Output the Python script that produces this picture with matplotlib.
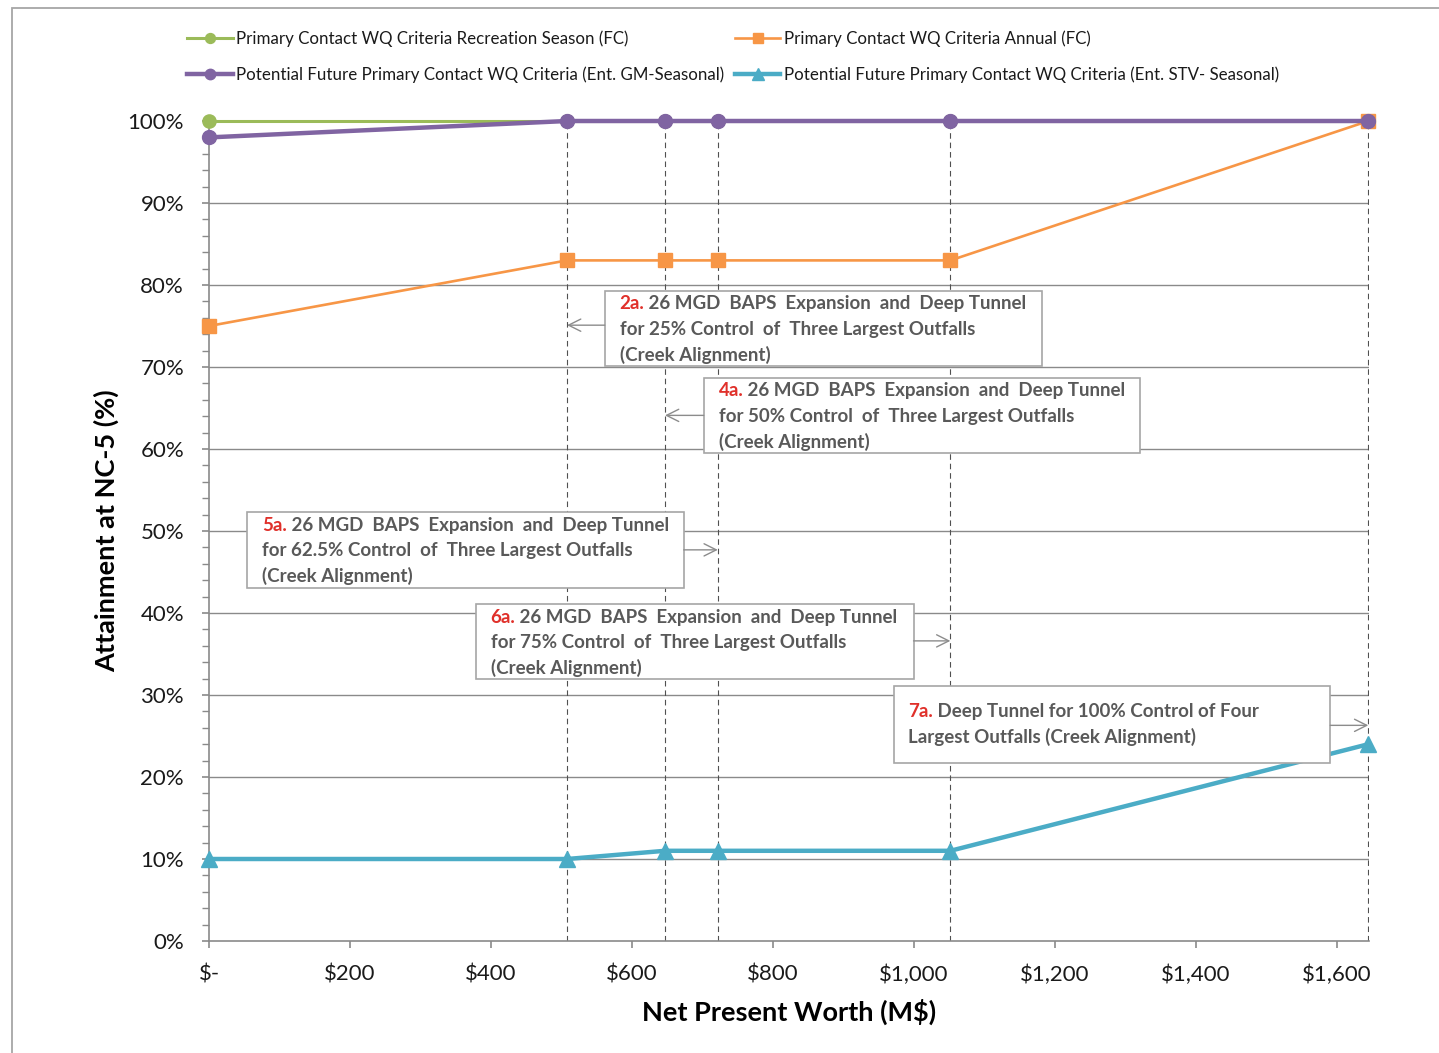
import matplotlib
matplotlib.use("Agg")
import matplotlib.pyplot as plt
from matplotlib.patches import Rectangle
import numpy as np

plt.rcParams['font.family'] = ['Lato', 'DejaVu Sans']

# Net present worth of each alternative (M$)
npw = [0, 508, 647, 722, 1052, 1645]

# Attainment at NC-5 (%) for each criterion
rec_season_fc = [100, 100, 100, 100, 100, 100]
annual_fc = [75, 83, 83, 83, 83, 100]
gm_seasonal = [98, 100, 100, 100, 100, 100]
stv_seasonal = [10, 10, 11, 11, 11, 24]

series_names = [
    "Primary Contact WQ Criteria Recreation Season (FC)",
    "Primary Contact WQ Criteria Annual (FC)",
    "Potential Future Primary Contact WQ Criteria (Ent. GM-Seasonal)",
    "Potential Future Primary Contact WQ Criteria (Ent. STV- Seasonal)",
]

x_ticks = [0, 200, 400, 600, 800, 1000, 1200, 1400, 1600]
x_tick_labels = ["$-", "$200", "$400", "$600", "$800", "$1,000", "$1,200", "$1,400", "$1,600"]
y_ticks = list(range(0, 101, 10))
y_tick_labels = [f"{v}%" for v in y_ticks]

# Alternative callouts: (id, rest of first line, further lines, target npw)
callouts = [
    ("2a.", " 26 MGD  BAPS  Expansion  and  Deep Tunnel",
     ["for 25% Control  of  Three Largest Outfalls", "(Creek Alignment)"], 508),
    ("4a.", " 26 MGD  BAPS  Expansion  and  Deep Tunnel",
     ["for 50% Control  of  Three Largest Outfalls", "(Creek Alignment)"], 647),
    ("5a.", " 26 MGD  BAPS  Expansion  and  Deep Tunnel",
     ["for 62.5% Control  of  Three Largest Outfalls", "(Creek Alignment)"], 722),
    ("6a.", " 26 MGD  BAPS  Expansion  and  Deep Tunnel",
     ["for 75% Control  of  Three Largest Outfalls", "(Creek Alignment)"], 1052),
    ("7a.", " Deep Tunnel for 100% Control of Four",
     ["Largest Outfalls (Creek Alignment)"], 1645),
]
# Box placement in data units: (x0, x1, y_top, y_bottom, first_line_y, arrow_y, arrow_side)
box_layout = [
    (561.6, 1182.6, 79.3, 70.1, 77.7, 75.1, "left"),
    (702.0, 1321.6, 68.7, 59.5, 67.1, 64.1, "left"),
    (53.9, 673.6, 52.3, 43.0, 50.7, 47.7, "right"),
    (378.6, 999.7, 41.1, 32.0, 39.5, 36.6, "right"),
    (971.4, 1591.0, 31.1, 21.7, 28.0, 26.3, "right"),
]

GREEN = "#9BBB59"
ORANGE = "#F79646"
PURPLE = "#8064A2"
BLUE = "#4BACC6"
GRID = "#8A8A8A"
TEXT = "#595959"

fig = plt.figure(figsize=(14.39, 10.53), dpi=100)
ax = fig.add_axes([209 / 1439, 112 / 1053, 1160 / 1439, 820 / 1053])
ax.set_xlim(0, 1646)
ax.set_ylim(0, 100)

# outer chart border
fig.patches.append(Rectangle((12 / 1439, -0.05), 1.2, (1053 - 8) / 1053 + 0.05,
                             transform=fig.transFigure, fill=False,
                             edgecolor="#A6A6A6", linewidth=1.3, zorder=0))

# horizontal gridlines
for v in y_ticks[1:]:
    ax.axhline(v, color=GRID, linewidth=1.0, zorder=1)

# drop lines
ax.vlines(npw[1:], 0, 100, colors="#505050", linestyles=(0, (5, 3.5)), linewidth=0.8, zorder=1.5)

l_green, = ax.plot(npw, rec_season_fc, color=GREEN, linewidth=2.2, marker="o",
                   markersize=9.5, zorder=3, clip_on=False)
l_orange, = ax.plot(npw, annual_fc, color=ORANGE, linewidth=1.9, marker="s",
                    markersize=10, zorder=4, clip_on=False)
l_purple, = ax.plot(npw, gm_seasonal, color=PURPLE, linewidth=3.2, marker="o",
                    markersize=10, zorder=5, clip_on=False)
l_blue, = ax.plot(npw, stv_seasonal, color=BLUE, linewidth=3.2, marker="^",
                  markersize=11, zorder=5, clip_on=False)

# axes styling
for s in ["top", "right"]:
    ax.spines[s].set_visible(False)
for s in ["left", "bottom"]:
    ax.spines[s].set_color(GRID)
    ax.spines[s].set_linewidth(1.2)
ax.set_xticks(x_ticks)
ax.set_xticklabels(x_tick_labels)
ax.set_yticks(y_ticks)
ax.set_yticklabels(y_tick_labels)
ax.set_yticks(np.arange(0, 101, 2), minor=True)
ax.tick_params(axis="both", which="major", direction="out", length=5, color=GRID,
               labelsize=16, labelcolor="#1a1a1a", width=1.2)
ax.tick_params(axis="y", which="minor", direction="out", length=5, color=GRID, width=1.0)
ax.tick_params(axis="x", pad=12)
ax.tick_params(axis="y", pad=13)
ax.set_xlabel("Net Present Worth (M$)", fontsize=19.5, fontweight="bold", labelpad=10)
ax.set_ylabel("Attainment at NC-5 (%)", fontsize=19.5, fontweight="bold", labelpad=6)

# callout boxes with arrows to the drop lines
for (tag, first, rest, target), (x0, x1, yt, yb, y1, ay, side) in zip(callouts, box_layout):
    ax.add_patch(Rectangle((x0, yb), x1 - x0, yt - yb, facecolor="white",
                           edgecolor="#A6A6A6", linewidth=1.2, zorder=6))
    tx = x0 + 21
    line_step = 3.1
    t = ax.text(tx, y1, tag, color="#E0302A", fontsize=13.5, fontweight="bold",
                va="center", ha="left", zorder=7)
    ax.annotate(first, xy=(1, 0), xycoords=t, va="bottom", ha="left",
                color=TEXT, fontsize=13.5, fontweight="bold", zorder=7)
    for i, line in enumerate(rest):
        ax.text(tx, y1 - line_step * (i + 1), line, color=TEXT, fontsize=13.5,
                fontweight="bold", va="center", ha="left", zorder=7)
    start = x0 if side == "left" else x1
    ax.annotate("", xy=(target, ay), xytext=(start, ay),
                arrowprops=dict(arrowstyle="->", color="#8C8C8C", lw=1.0,
                                shrinkA=0, shrinkB=0, mutation_scale=22),
                zorder=7)

leg = fig.legend([l_green, l_purple, l_orange, l_blue],
                 [series_names[0], series_names[2], series_names[1], series_names[3]],
                 ncol=2, loc="upper left", bbox_to_anchor=(172 / 1439, 1 - 15 / 1053),
                 frameon=False, fontsize=12.2, handlelength=2.7, handletextpad=0.2,
                 columnspacing=0.6, labelspacing=1.15, markerscale=0.75)
for txt in leg.get_texts():
    txt.set_color("#1a1a1a")

fig.savefig("out.png", dpi=100)
